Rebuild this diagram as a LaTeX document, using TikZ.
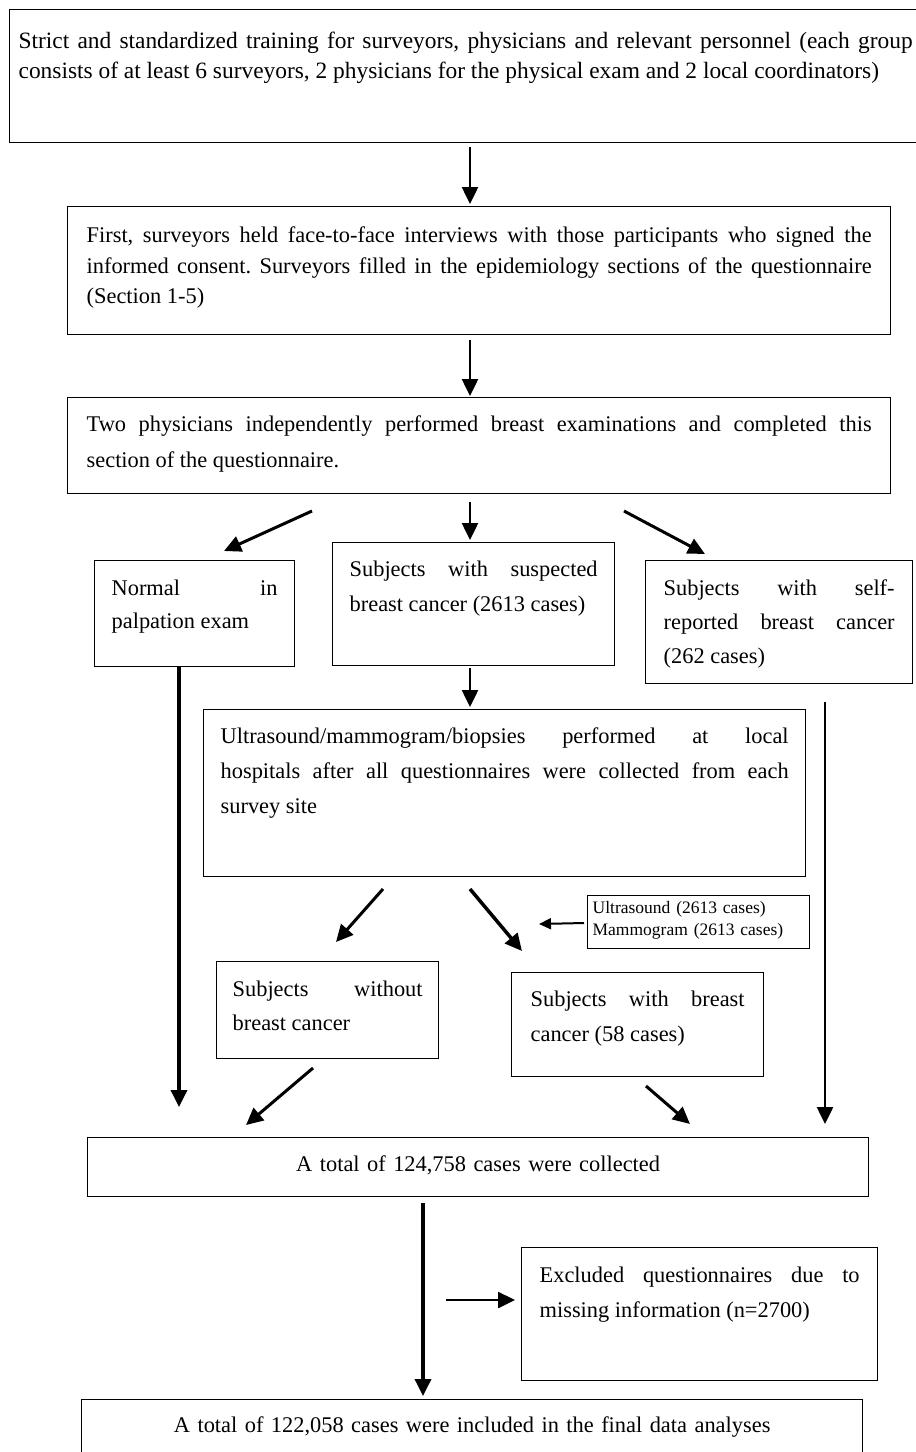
\documentclass[tikz,border=0pt]{standalone}
\usepackage{fontspec}
\setmainfont{Liberation Serif}
\usetikzlibrary{arrows.meta}
\usetikzlibrary{decorations.markings}
\tikzset{->/.style = {decoration={markings,
                                  mark=at position 1 with {\arrow{Triangle[length=17pt,width=16pt]}}},
                      postaction={decorate}, shorten >=4pt}}
\tikzset{small arrow/.style = {decoration={markings,
                                  mark=at position 1 with {\arrow{Triangle[length=12pt,width=11pt]}}},
                      postaction={decorate}, shorten >=3pt}}
\tikzset{box/.style = {draw, line width=1.3pt, anchor=north west, inner xsep=18pt, inner ysep=0pt,
                       text height=35pt, align=justify, font=\fontsize{22.4}{34}\selectfont}}
\tolerance=10000
\hyphenpenalty=10000
\frenchspacing
\begin{document}
\begin{tikzpicture}[x=1pt, y=-1pt, line width=3pt]
			\useasboundingbox (0,0) rectangle (916,1452);
			\node [box, inner xsep=9pt, text height=39pt, text depth=94pt, text width=894pt, font=\fontsize{23.4}{30}\selectfont] (1) at (9,9) {Strict and standardized training for surveyors, physicians and relevant personnel (each group\linebreak consists of at least 6 surveyors, 2 physicians for the physical exam and 2 local coordinators)};
			\node [box, inner xsep=19pt, text height=36pt, text depth=92pt, text width=785pt, font=\fontsize{22.4}{30.5}\selectfont] (2) at (67,206) {First, surveyors held face-to-face interviews with those participants who signed the\linebreak informed consent. Surveyors filled in the epidemiology sections of the questionnaire\linebreak (Section 1-5)};
			\node [box, inner xsep=19pt, text height=34pt, text depth=62pt, text width=785pt, font=\fontsize{22.4}{36}\selectfont] (3) at (67,397) {Two physicians independently performed breast examinations and completed this\linebreak section of the questionnaire.};
			\node [box, inner xsep=17pt, text depth=71pt, text width=166pt, font=\fontsize{22.4}{33}\selectfont] (4) at (94,560) {Normal in\linebreak palpation exam};
			\node [box, inner xsep=17pt, text height=34pt, text depth=89pt, text width=248pt, font=\fontsize{22.4}{35}\selectfont] (5) at (332,542) {Subjects with suspected\linebreak breast cancer (2613 cases)};
			\node [box, text depth=88pt, text width=231pt] (6) at (645,560) {Subjects with self-\linebreak reported breast cancer\linebreak (262 cases)};
			\node [box, inner xsep=17pt, text height=34pt, text depth=133pt, text width=568pt, font=\fontsize{22.4}{35}\selectfont] (7) at (203,709) {Ultrasound/mammogram/biopsies performed at local\linebreak hospitals after all questionnaires were collected from each\linebreak survey site};
			\node [box, inner xsep=5pt, text height=18pt, text depth=35pt, text width=212pt, align=left, font=\fontsize{17.5}{22}\selectfont] (8) at (587,895) {Ultrasound (2613 cases)\\Mammogram (2613 cases)};
			\node [box, inner xsep=16pt, text depth=62pt, text width=190pt] (9) at (216,961) {Subjects without\linebreak breast cancer};
			\node [box, inner xsep=19pt, text height=34pt, text depth=70pt, text width=214pt, font=\fontsize{22.4}{35}\selectfont] (10) at (511,972) {Subjects with breast\linebreak cancer (58 cases)};
			\node [box, text height=34pt, text depth=25pt, text width=745pt, align=center] (11) at (87,1137) {A total of 124,758 cases were collected};
			\node [box, text depth=98pt, text width=320pt, font=\fontsize{22.4}{35}\selectfont] (12) at (521,1247) {Excluded questionnaires due to\linebreak missing information (n=2700)};
			\node [box, text height=33pt, text depth=38pt, text width=745pt, align=center] (13) at (81,1399) {A total of 122,058 cases were included in the final data analyses};
			\node (20) at (470,147) {};
			\node (21) at (470,204) {};
			\node (22) at (470,340) {};
			\node (23) at (470,396) {};
			\node (24) at (312,511) {};
			\node (25) at (224,551) {};
			\node (26) at (470,502) {};
			\node (27) at (470,540) {};
			\node (28) at (624,511) {};
			\node (29) at (705,554) {};
			\node (30) at (470,668) {};
			\node (31) at (470,707) {};
			\node (32) at (179,666) {};
			\node (33) at (179,1107) {};
			\node (34) at (825,702) {};
			\node (35) at (825,1124) {};
			\node (36) at (383,889) {};
			\node (37) at (336,942) {};
			\node (38) at (470,889) {};
			\node (39) at (522,951) {};
			\node (40) at (584,923) {};
			\node (41) at (539,924) {};
			\node (42) at (313,1068) {};
			\node (43) at (246,1125) {};
			\node (44) at (646,1086) {};
			\node (45) at (690,1124) {};
			\node (46) at (423,1203) {};
			\node (47) at (423,1396) {};
			\node (48) at (446,1300) {};
			\node (49) at (515,1300) {};
			\draw [->, line width=2.5pt] (20.center) to (21.center);
			\draw [->, line width=2.5pt] (22.center) to (23.center);
			\draw [->] (24.center) to (25.center);
			\draw [->, line width=2.5pt] (26.center) to (27.center);
			\draw [->] (28.center) to (29.center);
			\draw [->, line width=2.5pt] (30.center) to (31.center);
			\draw [->, line width=3.5pt] (32.center) to (33.center);
			\draw [->, line width=2.5pt] (34.center) to (35.center);
			\draw [->] (36.center) to (37.center);
			\draw [->, line width=3.5pt] (38.center) to (39.center);
			\draw [small arrow, line width=2pt] (40.center) to (41.center);
			\draw [->] (42.center) to (43.center);
			\draw [->] (44.center) to (45.center);
			\draw [->, line width=3.5pt] (46.center) to (47.center);
			\draw [->, line width=2.5pt] (48.center) to (49.center);
		\end{tikzpicture}
\end{document}
